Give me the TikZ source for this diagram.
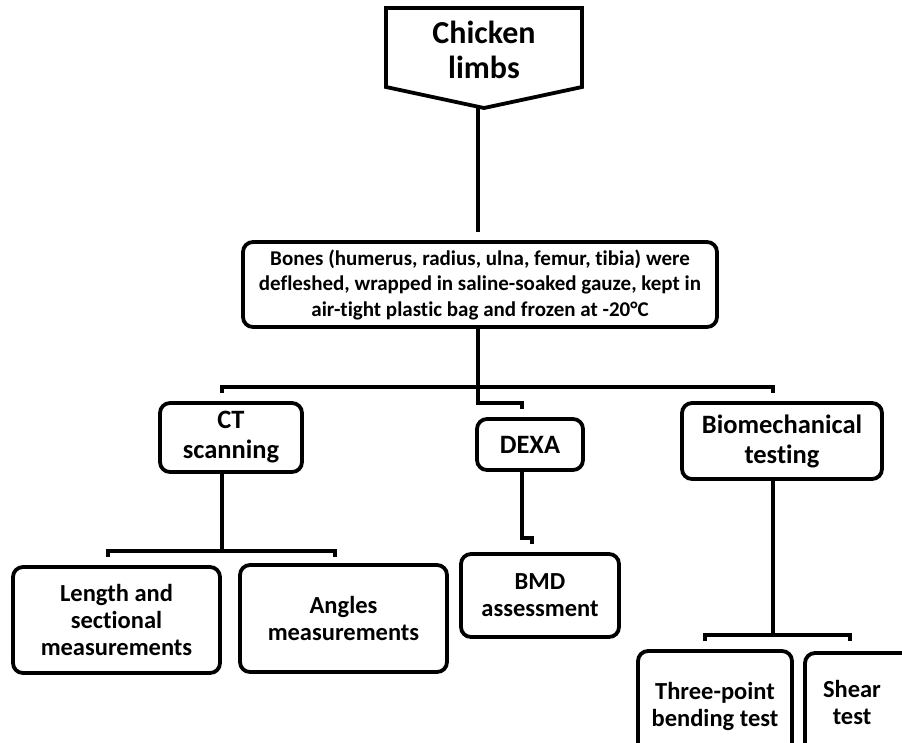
\documentclass[tikz,border=0pt]{standalone}
\usepackage{fontspec}
\setmainfont{Carlito}[Ligatures=NoCommon]
\usetikzlibrary{calc}
\begin{document}
\begin{tikzpicture}[x=1pt,y=-1pt,
  box/.style={draw, line width=3.8pt, rounded corners=10pt, align=center, inner sep=0pt},
  conn/.style={line width=3.8pt, line cap=butt, line join=miter},
  fchick/.style={font=\bfseries\fontsize{32}{35}\selectfont},
  fbones/.style={font=\bfseries\fontsize{21}{25.5}\selectfont},
  fmid/.style={font=\bfseries\fontsize{26.5}{30}\selectfont},
  flow/.style={font=\bfseries\fontsize{24.5}{27}\selectfont}]
\useasboundingbox (0,0) rectangle (902,742);
\fill[white] (0,0) rectangle (902,742);
\begin{scope}
\clip (0,0) rectangle (902,742);
% top pentagon
\draw[conn] (386,8) -- (582,8) -- (582,87) -- (484,108) -- (386,87) -- cycle;
\node[fchick, align=center, inner sep=0pt] (chicken) at (484,50) {Chicken\\limbs};
\coordinate (ctip) at (478,108);
% boxes
\node[box, fbones, minimum width=474pt, minimum height=85pt] (bones) at (480,284.5)
  {Bones (humerus, radius, ulna, femur, tibia) were\\defleshed, wrapped in saline-soaked gauze, kept in\\air-tight plastic bag and frozen at -20°C};
\node[box, fmid, minimum width=142pt, minimum height=69pt] (ct) at (231,437.5) {CT\\scanning};
\node[box, fmid, minimum width=106pt, minimum height=51pt] (dexa) at (530,444.5) {DEXA};
\node[box, fmid, minimum width=200pt, minimum height=76pt] (bio) at (782,441) {Biomechanical\\testing};
\node[box, flow, minimum width=207pt, minimum height=106pt] (len) at (116.5,620) {Length and\\sectional\\measurements};
\node[box, flow, minimum width=207pt, minimum height=107pt] (ang) at (343.5,618.5) {Angles\\measurements};
\node[box, flow, minimum width=158pt, minimum height=83pt] (bmd) at (540,595.5) {BMD\\assessment};
\node[box, flow, minimum width=154pt, minimum height=110pt] (three) at (715,706) {Three-point\\bending test};
\node[box, flow, minimum width=120pt, minimum height=110pt] (shear) at (865,708) {};
\node[flow, align=center, inner sep=0pt] (sheartxt) at (852,702) {Shear\\test};
% connector ends
\coordinate (bonesin) at (478,232);
\coordinate (dexain) at (522,409);
\coordinate (ctin) at (222,393);
\coordinate (bioin) at (773,393);
\coordinate (lenin) at (108,557);
\coordinate (angin) at (335,557);
\coordinate (bmdin) at (532,544);
\coordinate (threein) at (705,641);
\coordinate (shearin) at (850,641);
% connectors
\draw[conn] (ctip) -- (bonesin);
\draw[conn] (bones.south -| ctip) -- (478,403) -| (dexain);
\draw[conn] (ctin) |- (773,387) -- (bioin);
\draw[conn] (ct.south -| ctin) -- (222,551);
\draw[conn] (lenin) |- (335,551) -- (angin);
\draw[conn] (dexa.south -| dexain) -- (522,538) -| (bmdin);
\draw[conn] (bio.south -| bioin) -- (773,635);
\draw[conn] (threein) |- (850,635) -- (shearin);
\end{scope}
\end{tikzpicture}
\end{document}
